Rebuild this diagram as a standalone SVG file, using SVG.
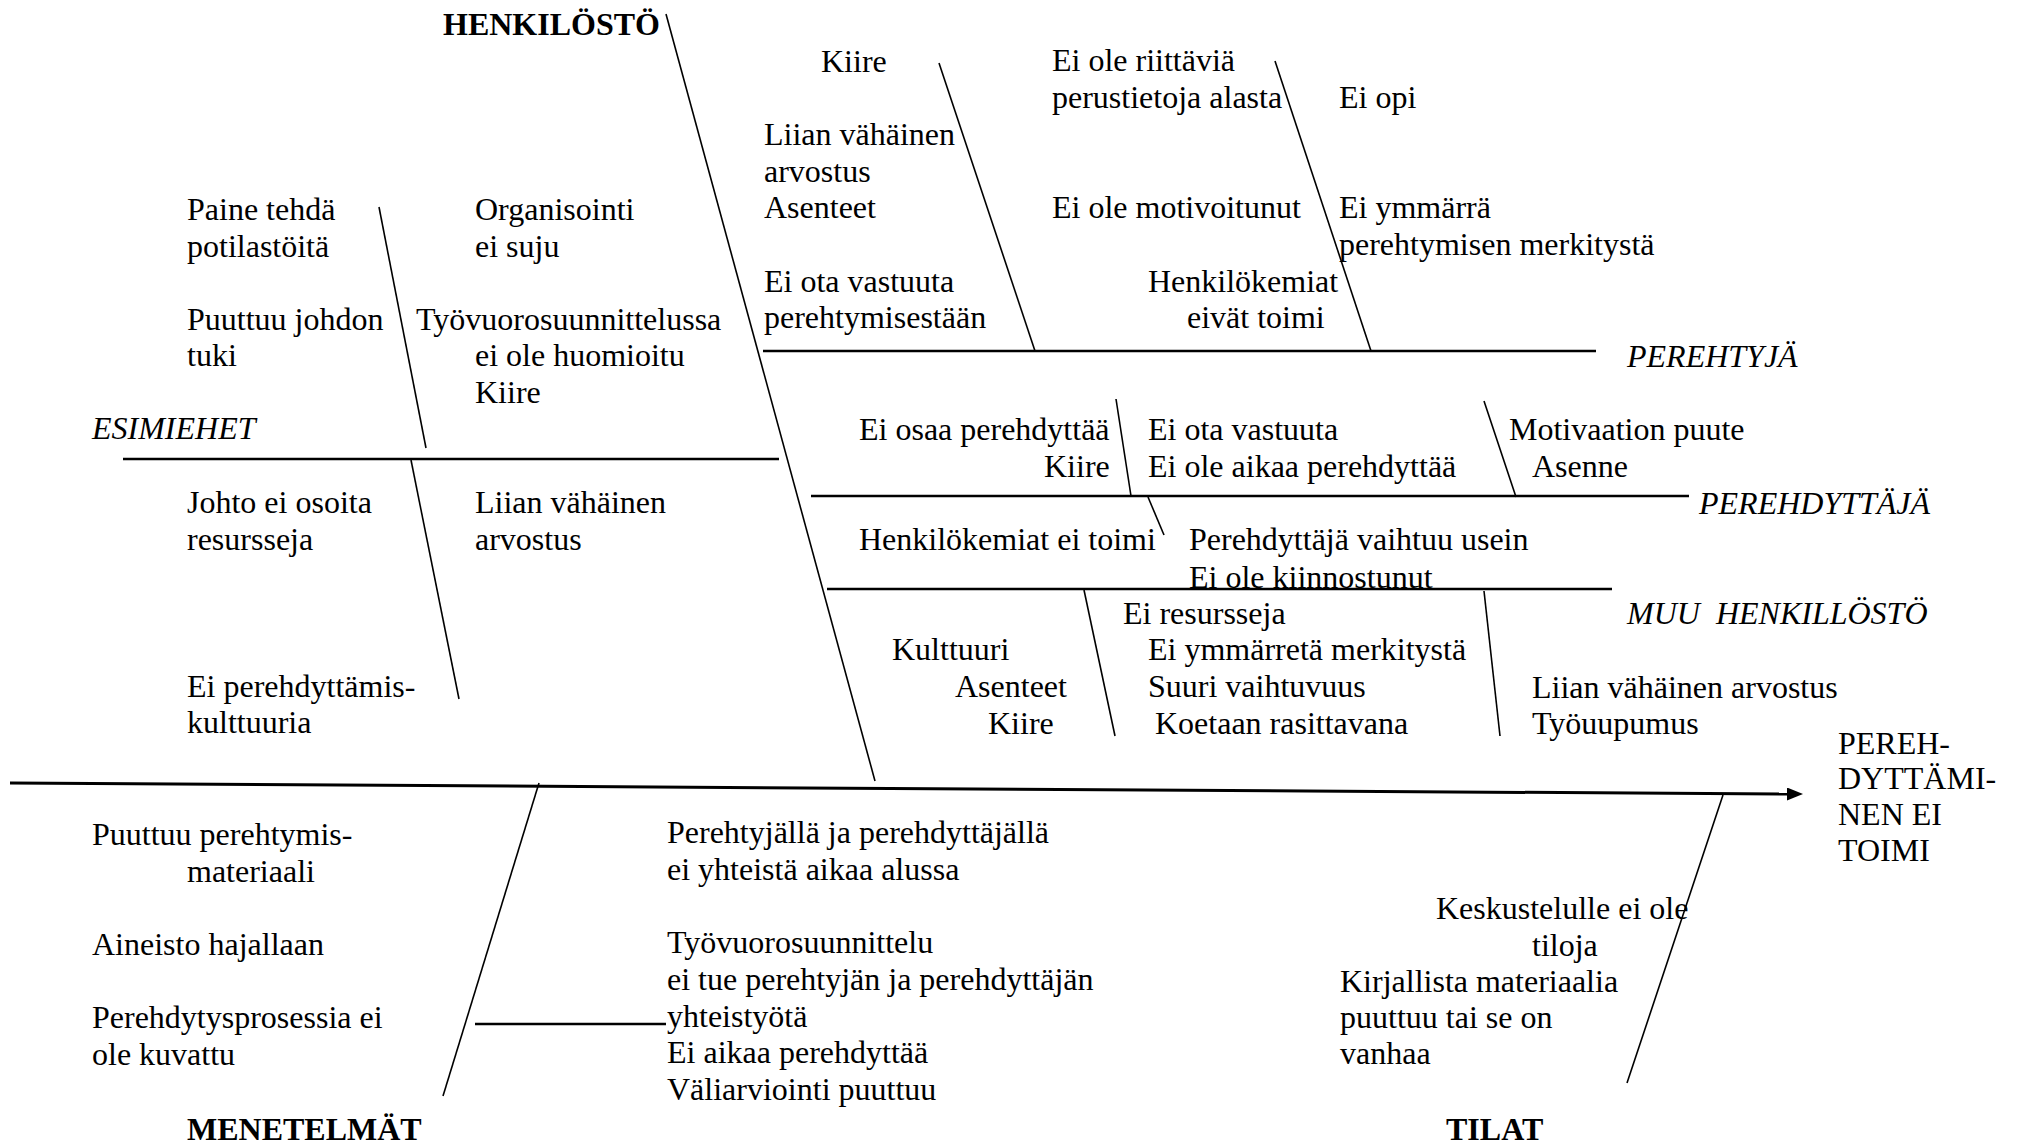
<svg xmlns="http://www.w3.org/2000/svg" width="2020" height="1144" viewBox="0 0 2020 1144">
<style>
.t{font-family:"Liberation Serif","Times New Roman",serif;font-size:32px;fill:#000}
.i{font-style:italic}
.b{font-weight:bold}
.bone{stroke:#000;stroke-width:2.5;fill:none}
.sub{stroke:#000;stroke-width:1.6;fill:none}
.spine{stroke:#000;stroke-width:3;fill:none}
</style>
<defs>
<marker id="arr" markerUnits="userSpaceOnUse" markerWidth="18" markerHeight="14" refX="0" refY="6.5" orient="auto">
<path d="M0,0 L16,6.5 L0,13 z" fill="#000"/>
</marker>
</defs>
<rect width="2020" height="1144" fill="#fff"/>
<g id="connectors">
<line class="spine" x1="10" y1="783" x2="1787" y2="794" marker-end="url(#arr)"/>
<line class="sub" x1="666" y1="14" x2="875" y2="781"/>
<line class="bone" x1="123" y1="459" x2="779" y2="459"/>
<line class="sub" x1="379" y1="207" x2="426" y2="448"/>
<line class="sub" x1="411" y1="460" x2="459" y2="699"/>
<line class="bone" x1="763" y1="351" x2="1596" y2="351"/>
<line class="sub" x1="939" y1="63" x2="1035" y2="351"/>
<line class="sub" x1="1275" y1="61" x2="1371" y2="351"/>
<line class="bone" x1="811" y1="496" x2="1689" y2="496"/>
<line class="sub" x1="1116" y1="399" x2="1131" y2="496"/>
<line class="sub" x1="1148" y1="497" x2="1164" y2="535"/>
<line class="sub" x1="1484" y1="401" x2="1516" y2="497"/>
<line class="bone" x1="827" y1="589" x2="1612" y2="589"/>
<line class="sub" x1="1084" y1="590" x2="1115" y2="736"/>
<line class="sub" x1="1484" y1="591" x2="1500" y2="736"/>
<line class="sub" x1="539" y1="783" x2="443" y2="1096"/>
<line class="bone" x1="475" y1="1024" x2="666" y2="1024"/>
<line class="sub" x1="1723" y1="795" x2="1627" y2="1083"/>
</g>
<g id="henkilosto">
<text class="t b" x="443" y="35">HENKILÖSTÖ</text>
</g>
<g id="esimiehet">
<text class="t i" x="92" y="439">ESIMIEHET</text>
<text class="t" x="187" y="220">Paine tehdä</text>
<text class="t" x="187" y="257">potilastöitä</text>
<text class="t" x="187" y="330">Puuttuu johdon</text>
<text class="t" x="187" y="366">tuki</text>
<text class="t" x="475" y="220">Organisointi</text>
<text class="t" x="475" y="257">ei suju</text>
<text class="t" x="416" y="330">Työvuorosuunnittelussa</text>
<text class="t" x="475" y="366">ei ole huomioitu</text>
<text class="t" x="475" y="403">Kiire</text>
<text class="t" x="187" y="513">Johto ei osoita</text>
<text class="t" x="187" y="550">resursseja</text>
<text class="t" x="475" y="513">Liian vähäinen</text>
<text class="t" x="475" y="550">arvostus</text>
<text class="t" x="187" y="697">Ei perehdyttämis-</text>
<text class="t" x="187" y="733">kulttuuria</text>
</g>
<g id="perehtyja">
<text class="t i" x="1627" y="367">PEREHTYJÄ</text>
<text class="t" x="821" y="72">Kiire</text>
<text class="t" x="764" y="145">Liian vähäinen</text>
<text class="t" x="764" y="182">arvostus</text>
<text class="t" x="764" y="218">Asenteet</text>
<text class="t" x="764" y="292">Ei ota vastuuta</text>
<text class="t" x="764" y="328">perehtymisestään</text>
<text class="t" x="1052" y="71">Ei ole riittäviä</text>
<text class="t" x="1052" y="108">perustietoja alasta</text>
<text class="t" x="1052" y="218">Ei ole motivoitunut</text>
<text class="t" x="1148" y="292">Henkilökemiat</text>
<text class="t" x="1187" y="328">eivät toimi</text>
<text class="t" x="1339" y="108">Ei opi</text>
<text class="t" x="1339" y="218">Ei ymmärrä</text>
<text class="t" x="1339" y="255">perehtymisen merkitystä</text>
</g>
<g id="perehdyttaja">
<text class="t i" x="1699" y="514">PEREHDYTTÄJÄ</text>
<text class="t" x="859" y="440">Ei osaa perehdyttää</text>
<text class="t" x="1044" y="477">Kiire</text>
<text class="t" x="1148" y="440">Ei ota vastuuta</text>
<text class="t" x="1148" y="477">Ei ole aikaa perehdyttää</text>
<text class="t" x="1509" y="440">Motivaation puute</text>
<text class="t" x="1532" y="477">Asenne</text>
<text class="t" x="859" y="550">Henkilökemiat ei toimi</text>
<text class="t" x="1189" y="550">Perehdyttäjä vaihtuu usein</text>
<text class="t" x="1189" y="588">Ei ole kiinnostunut</text>
</g>
<g id="muu-henkilosto">
<text class="t i" x="1627" y="624" xml:space="preserve">MUU  HENKILLÖSTÖ</text>
<text class="t" x="1123" y="624">Ei resursseja</text>
<text class="t" x="892" y="660">Kulttuuri</text>
<text class="t" x="1148" y="660">Ei ymmärretä merkitystä</text>
<text class="t" x="955" y="697">Asenteet</text>
<text class="t" x="1148" y="697">Suuri vaihtuvuus</text>
<text class="t" x="988" y="734">Kiire</text>
<text class="t" x="1155" y="734">Koetaan rasittavana</text>
<text class="t" x="1532" y="698">Liian vähäinen arvostus</text>
<text class="t" x="1532" y="734">Työuupumus</text>
</g>
<g id="tulos">
<text class="t" x="1838" y="754">PEREH-</text>
<text class="t" x="1838" y="789">DYTTÄMI-</text>
<text class="t" x="1838" y="825">NEN EI</text>
<text class="t" x="1838" y="861">TOIMI</text>
</g>
<g id="menetelmat">
<text class="t b" x="187" y="1140">MENETELMÄT</text>
<text class="t" x="92" y="845">Puuttuu perehtymis-</text>
<text class="t" x="187" y="882">materiaali</text>
<text class="t" x="92" y="955">Aineisto hajallaan</text>
<text class="t" x="92" y="1028">Perehdytysprosessia ei</text>
<text class="t" x="92" y="1065">ole kuvattu</text>
<text class="t" x="667" y="843">Perehtyjällä ja perehdyttäjällä</text>
<text class="t" x="667" y="880">ei yhteistä aikaa alussa</text>
<text class="t" x="667" y="953">Työvuorosuunnittelu</text>
<text class="t" x="667" y="990">ei tue perehtyjän ja perehdyttäjän</text>
<text class="t" x="667" y="1027">yhteistyötä</text>
<text class="t" x="667" y="1063">Ei aikaa perehdyttää</text>
<text class="t" x="667" y="1100">Väliarviointi puuttuu</text>
</g>
<g id="tilat">
<text class="t b" x="1446" y="1140">TILAT</text>
<text class="t" x="1436" y="919">Keskustelulle ei ole</text>
<text class="t" x="1532" y="956">tiloja</text>
<text class="t" x="1340" y="992">Kirjallista materiaalia</text>
<text class="t" x="1340" y="1028">puuttuu tai se on</text>
<text class="t" x="1340" y="1064">vanhaa</text>
</g>
</svg>
